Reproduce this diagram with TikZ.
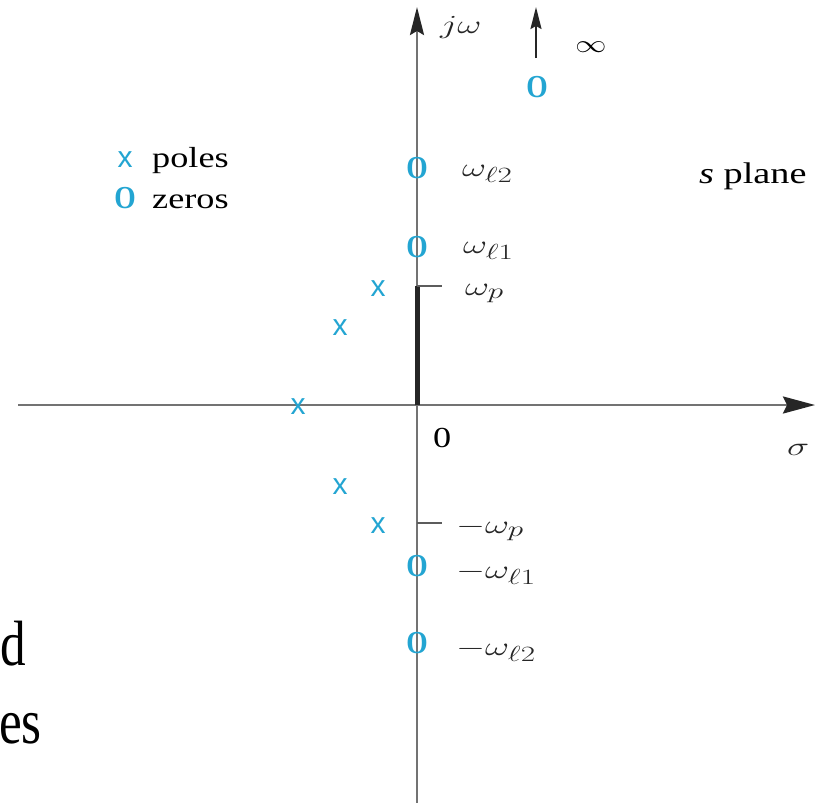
\documentclass[tikz,border=0pt]{standalone}
\usepackage{fontspec}
\usepackage{graphicx}
\setmainfont{Liberation Serif}
\setsansfont{Liberation Sans}
\usetikzlibrary{arrows.meta}
\definecolor{polec}{RGB}{35,165,210}
\definecolor{axisc}{RGB}{115,115,115}
\newcommand{\sx}[1]{\scalebox{1.25}[1]{#1}}
\newcommand{\mx}[1]{\scalebox{1.5}[1.05]{#1}}
\newcommand{\zmark}{\scalebox{0.86}[1]{\textbf{O}}}
\begin{document}
\begin{tikzpicture}[x=1pt,y=-1pt,
  axisline/.style={draw=axisc,line width=2.4pt},
  lab/.style={font=\fontsize{29}{34}\selectfont,inner sep=0pt},
  mlab/.style={font=\fontsize{29}{34}\selectfont,inner sep=0pt,text=black!85},
  polemark/.style={text=polec,font=\fontsize{30}{30}\selectfont\sffamily,inner sep=0pt},
  zeromark/.style={text=polec,font=\fontsize{32}{32}\selectfont,inner sep=0pt},
  bigtext/.style={font=\fontsize{64}{70}\selectfont,inner sep=0pt}]
\useasboundingbox (0,0) rectangle (831,803);
\fill[white] (0,0) rectangle (831,803);
% axes
\coordinate (o) at (417,405);
\coordinate (xl) at (18,405);
\coordinate (xr) at (815,405);
\coordinate (yb) at (417,803);
\coordinate (yt) at (417,7);
\draw[axisline,-{Stealth[length=32pt,width=17pt,inset=4pt,color=black!85]}] (xl) -- (xr);
\draw[axisline,-{Stealth[length=28pt,width=14pt,inset=4pt,color=black!85]}] (yb) -- (yt);
% passband segment and ticks
\coordinate (wp) at (417,286);
\coordinate (wpt) at (442,286);
\coordinate (mwp) at (417,523);
\coordinate (mwpt) at (442,523);
\draw[line width=5pt,black!85] (o) -- (wp);
\draw[axisc!80!black,line width=2pt] (wp) -- (wpt);
\draw[axisc!80!black,line width=2pt] (mwp) -- (mwpt);
% poles
\node[polemark] (p1) at (378,289) {x};
\node[polemark] (p2) at (340,328) {x};
\node[polemark] (p3) at (298,407) {x};
\node[polemark] (p4) at (340,487) {x};
\node[polemark] (p5) at (378,526) {x};
% zeros
\node[zeromark] (z1) at (417,168) {\zmark};
\node[zeromark] (z2) at (417,247) {\zmark};
\node[zeromark] (z3) at (417,566) {\zmark};
\node[zeromark] (z4) at (417,643) {\zmark};
\node[zeromark] (zinf) at (537,87) {\zmark};
% arrow to infinity
\coordinate (ia) at (536,58);
\coordinate (ib) at (536,7);
\draw[line width=2pt,black!85,-{Stealth[length=22pt,width=11pt,inset=3pt]}] (ia) -- (ib);
\node[lab] (inf) at (591,47) {\sx{$\infty$}};
% axis labels
\node[mlab,anchor=base west] (jw) at (440,33) {\mx{$j\omega$}};
\node[lab,anchor=base west] (zero) at (433,447) {\sx{0}};
\node[mlab,anchor=base west] (sig) at (787,455) {\mx{$\sigma$}};
\node[lab,anchor=base west] (splane) at (699,183) {\scalebox{1.32}[1.03]{\textit{s} plane}};
% frequency labels
\node[mlab,anchor=base west] (lw2) at (462,176) {\mx{$\omega_{\ell 2}$}};
\node[mlab,anchor=base west] (lw1) at (463,253) {\mx{$\omega_{\ell 1}$}};
\node[mlab,anchor=base west] (lwp) at (465,295) {\mx{$\omega_p$}};
\node[mlab,anchor=base west] (lmwp) at (456,533) {\mx{$-\omega_p$}};
\node[mlab,anchor=base west] (lmw1) at (456,578) {\mx{$-\omega_{\ell 1}$}};
\node[mlab,anchor=base west] (lmw2) at (456,655) {\mx{$-\omega_{\ell 2}$}};
% legend
\node[polemark,anchor=base] (lp) at (125,167) {x};
\node[lab,anchor=base west] (lpt) at (152,167) {\sx{poles}};
\node[zeromark,anchor=base] (lz) at (125,208) {\zmark};
\node[lab,anchor=base west] (lzt) at (152,208) {\sx{zeros}};
% surrounding text, as cropped in the reference
\node[bigtext,anchor=base west] (cd) at (0,665) {\scalebox{0.8}[1]{d}};
\node[bigtext,anchor=base west] (ces) at (-1,743) {\scalebox{0.8}[1]{es}};
\end{tikzpicture}
\end{document}
